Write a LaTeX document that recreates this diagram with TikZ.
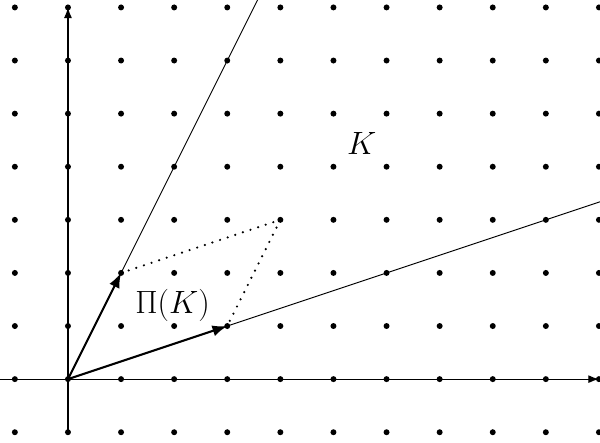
\documentclass[tikz,border=0pt]{standalone}
\usetikzlibrary{arrows.meta, calc}
\begin{document}
\begin{tikzpicture}[>=Latex, x=1cm, y=1cm]
    \def\xmin{-1.28} \def\xmax{10.02} \def\ymin{-1.19} \def\ymax{7.14}
    % Frame
    \useasboundingbox (\xmin,\ymin) rectangle (\xmax,\ymax);
    \clip (\xmin,\ymin) rectangle (\xmax,\ymax);
    % Lattice points
    \foreach \i in {-1,...,10} {\foreach \j in {-1,...,7} {\fill (\i,\j) circle (1.6pt);}}
    % Axes
    \coordinate (O) at (0,0);
    \coordinate (xstart) at (\xmin,0); \coordinate (xend) at (10,0);
    \coordinate (ystart) at (0,-1); \coordinate (yend) at (0,7);
    \draw[line width=0.6pt, ->] (xstart) -- (xend);
    \draw[line width=0.6pt, ->] (ystart) -- (yend);
    % Generators and their sum
    \coordinate (u) at (1,2); \coordinate (v) at (3,1); \coordinate (w) at (4,3);
    % Cone rays
    \draw[line width=0.5pt] (O) -- ($(O)!4!(u)$);
    \draw[line width=0.5pt] (O) -- ($(O)!4!(v)$);
    % Fundamental parallelogram
    \draw[line width=1.3pt, line cap=round, dash pattern=on 0pt off 4.3pt] (u) -- (w) -- (v);
    \draw[line width=1.1pt, ->] (O) -- (u);
    \draw[line width=1.1pt, ->] (O) -- (v);
    % Labels
    \node[font=\LARGE] (K) at (5.53,4.44) {$K$};
    \node[font=\LARGE] (PiK) at (1.97,1.38) {$\Pi(K)$};
\end{tikzpicture}
\end{document}
